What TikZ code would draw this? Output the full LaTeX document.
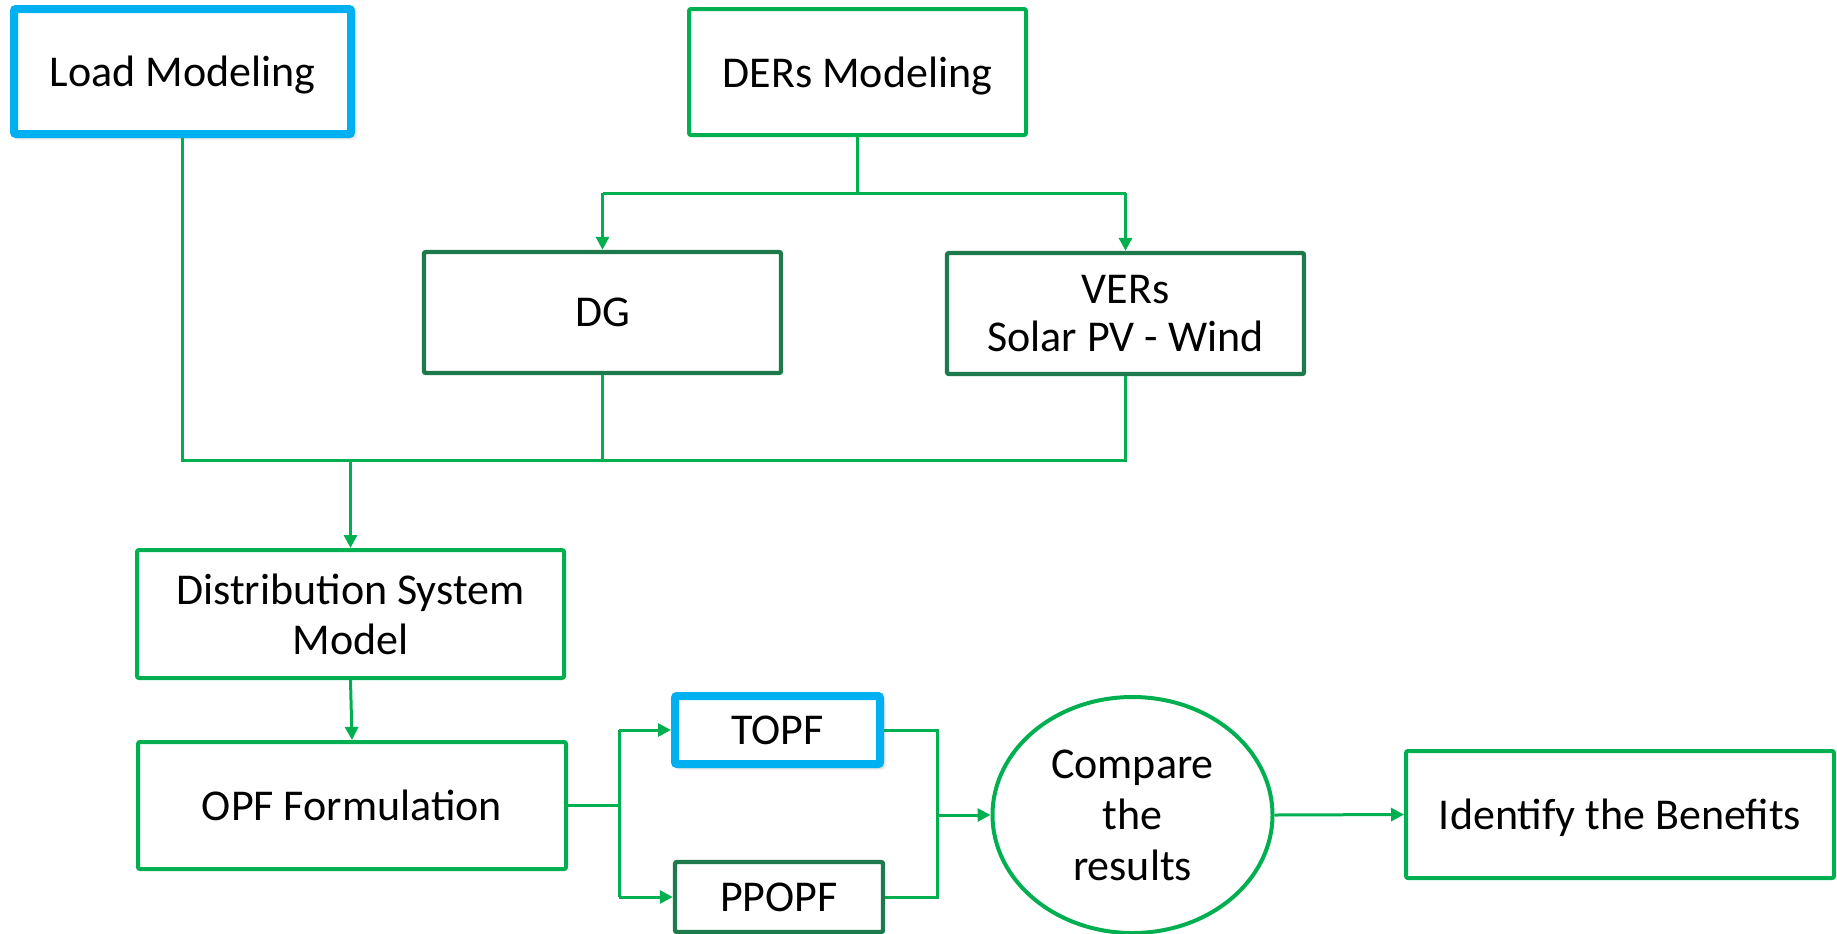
\documentclass[tikz,border=0pt]{standalone}
\usepackage{fontspec}
\setmainfont{Carlito}
\usetikzlibrary{arrows.meta,shapes.geometric,shadows.blur}
\definecolor{lgreen}{HTML}{00B050}
\definecolor{dgreen}{HTML}{1E7A4C}
\definecolor{lblue}{HTML}{00B0F0}
\tikzset{
  box/.style={draw=lgreen, line width=2pt, rounded corners=1pt, fill=white,
    minimum width=#1, inner sep=0pt, align=center, text depth=0pt,
    font=\fontsize{22}{25}\selectfont},
  darkbox/.style={box=#1, draw=dgreen, line width=2.2pt},
  bluebox/.style={box=#1, draw=lblue, line width=4pt,
    blur shadow={shadow xshift=1.5pt, shadow yshift=-1.5pt, shadow blur steps=6, shadow opacity=35}},
  link/.style={draw=lgreen, line width=1.5pt},
  arrow/.style={link, -{Triangle[length=6.5pt,width=6.5pt]}},
}
\begin{document}
\begin{tikzpicture}[x=0.5pt, y=-0.5pt]
\useasboundingbox (0,0) rectangle (1837,933);

% boxes
\node[bluebox=168.5pt, minimum height=62.5pt] (load) at (182.5,71.5) {Load Modeling};
\node[box=168.5pt, minimum height=63pt] (ders) at (857.5,72) {DERs Modeling};
\node[darkbox=178.5pt, minimum height=60.5pt] (dg) at (602.5,312.5) {DG};
\node[darkbox=178.5pt, minimum height=60.5pt, font=\fontsize{22}{24}\selectfont] (vers) at (1125.5,313.5) {VERs\\Solar PV - Wind};
\node[box=213.5pt, minimum height=64pt] (dsm) at (350.5,614) {Distribution System\\Model};
\node[box=214pt, minimum height=63.5pt] (opf) at (352,805.5) {OPF Formulation};
\node[bluebox=102.5pt, minimum height=34pt] (topf) at (777.5,730) {TOPF};
\node[darkbox=104pt, minimum height=35pt] (ppopf) at (779,897) {PPOPF};
\node[draw=lgreen, line width=2pt, ellipse, minimum width=140pt, minimum height=118pt,
      inner sep=0pt, align=center, font=\fontsize{22}{25.5}\selectfont] (cmp) at (1132.5,815) {Compare\\the\\results};
\node[box=214pt, minimum height=63.5pt] (ident) at (1620,814.5) {Identify the Benefits};

% junction points
\coordinate (dersj) at (ders.south |- 0,193);
\coordinate (dgj) at (dg.north |- 0,193);
\coordinate (versj) at (vers.north |- 0,193);
\coordinate (loadj) at (load.south |- 0,460);
\coordinate (dgb) at (dg.south |- 0,460);
\coordinate (versb) at (vers.south |- 0,460);
\coordinate (dsmj) at (dsm.north |- 0,460);
\coordinate (opfj) at (619,0 |- opf.east);
\coordinate (topfj) at (opfj |- topf.west);
\coordinate (ppopfj) at (opfj |- ppopf.west);
\coordinate (cmpa) at (937,0 |- topf.east);
\coordinate (cmpb) at (cmpa |- ppopf.east);
\coordinate (cmpj) at (cmpa |- cmp.west);

% DERs split
\draw[link] (ders.south) -- (dersj);
\draw[link] (dgj) -- (versj);
\draw[arrow] (dgj) -- (dg.north);
\draw[arrow] (versj) -- (vers.north);

% models merge into the distribution system
\draw[link] (load.south) -- (loadj) -- (versb) -- (vers.south);
\draw[link] (dg.south) -- (dgb);
\draw[arrow] (dsmj) -- (dsm.north);
\draw[arrow] (dsm.south) -- (opf.north);

% OPF split into the two formulations
\draw[link] (opf.east) -- (opfj);
\draw[link] (topfj) -- (ppopfj);
\draw[arrow] (topfj) -- (topf.west);
\draw[arrow] (ppopfj) -- (ppopf.west);

% results compared
\draw[link] (topf.east) -- (cmpa) -- (cmpb) -- (ppopf.east);
\draw[arrow] (cmpj) -- (cmp.west);
\draw[arrow] (cmp.east) -- (ident.west);
\end{tikzpicture}
\end{document}
